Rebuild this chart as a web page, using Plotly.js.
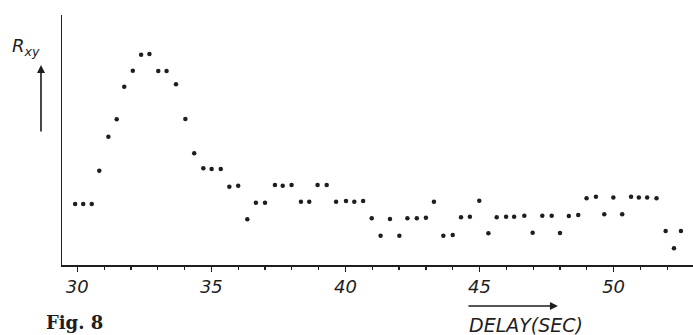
<!DOCTYPE html>
<html>
<head>
<meta charset="utf-8">
<script src="https://cdn.plot.ly/plotly-3.0.1.min.js"></script>
<style>html,body{margin:0;padding:0;background:#fff;}#chart{width:693px;height:335px;}</style>
</head>
<body>
<div id="chart"></div>
<script>
// Delay (s)
const delay = [29.92, 30.22, 30.54, 30.82, 31.16, 31.47, 31.75, 32.07, 32.38, 32.69,
  33.02, 33.33, 33.68, 34.03, 34.36, 34.70, 35.01, 35.35, 35.67, 36.00,
  36.34, 36.66, 37.00, 37.37, 37.66, 37.99, 38.34, 38.65, 38.96, 39.30,
  39.65, 40.02, 40.33, 40.66, 40.98, 41.31, 41.66, 42.01, 42.31, 42.66,
  43.00, 43.30, 43.65, 44.00, 44.31, 44.64, 44.99, 45.33, 45.64, 45.99,
  46.29, 46.67, 46.98, 47.34, 47.69, 48.00, 48.33, 48.68, 48.99, 49.34,
  49.65, 49.99, 50.32, 50.65, 50.94, 51.25, 51.60, 51.94, 52.25, 52.51];
// Rxy (arbitrary units, 0-100 of axis height)
const rxy = [24.4, 24.4, 24.4, 37.7, 51.3, 58.3, 71.3, 77.7, 84.1, 84.4,
  77.6, 77.6, 72.3, 58.4, 44.7, 38.7, 38.4, 38.4, 31.3, 31.7,
  18.3, 24.9, 24.9, 32.0, 31.7, 32.0, 25.3, 25.3, 32.0, 32.0,
  25.3, 25.6, 25.3, 25.6, 18.7, 11.7, 18.4, 11.7, 18.7, 18.7,
  18.9, 25.3, 11.7, 12.0, 19.1, 19.3, 25.7, 12.7, 19.1, 19.3,
  19.3, 19.7, 12.9, 19.7, 19.7, 12.8, 19.6, 20.0, 26.7, 27.3,
  20.3, 27.0, 20.3, 27.3, 27.0, 27.0, 26.7, 13.6, 6.7, 13.6];
const xTickStep = 5;
const xRange = [29.43, 52.96];
const yRange = [0, 100];
const yLabel = '<i>R<sub>xy</sub></i>';
const xLabel = 'DELAY(SEC)';
const figLabel = 'Fig. 8';

const ink = '#1e1e1e';
const trace = {
  x: delay, y: rxy, type: 'scatter', mode: 'markers',
  marker: {symbol: 'circle', size: 4.5, color: ink},
  hoverinfo: 'skip'
};

const layout = {
  width: 693, height: 335,
  margin: {l: 62, r: 0, t: 15, b: 70},
  paper_bgcolor: '#fff', plot_bgcolor: '#fff',
  showlegend: false,
  xaxis: {
    range: xRange, dtick: xTickStep, tick0: 0,
    ticks: 'outside', ticklen: 5, tickwidth: 1.5, tickcolor: ink,
    minor: {dtick: 1, tick0: 0, ticks: 'outside', ticklen: 3, tickwidth: 1.2, tickcolor: ink, showgrid: false},
    showline: true, linewidth: 1.5, linecolor: ink,
    showgrid: false, zeroline: false,
    tickfont: {family: 'DejaVu Sans', size: 18, style: 'italic', color: ink}
  },
  yaxis: {
    range: yRange, showline: true, linewidth: 1.5, linecolor: ink,
    showticklabels: false, ticks: '', showgrid: false, zeroline: false
  },
  annotations: [
    {xref: 'paper', yref: 'paper', x: -0.082, y: 0.815, xanchor: 'left', yanchor: 'bottom',
     text: yLabel, showarrow: false,
     font: {family: 'DejaVu Sans', size: 18, color: ink}},
    {xref: 'paper', yref: 'paper', x: -0.0333, y: 0.8, text: '', showarrow: true,
     ax: 0, ay: 68, arrowhead: 2, arrowsize: 1, arrowwidth: 1.6, arrowcolor: ink},
    {xref: 'paper', yref: 'paper', x: 0.786, y: -0.164, text: '', showarrow: true,
     ax: -91, ay: 0, arrowhead: 2, arrowsize: 1, arrowwidth: 1.6, arrowcolor: ink},
    {xref: 'paper', yref: 'paper', x: 0.736, y: -0.238, xanchor: 'center', yanchor: 'middle',
     text: xLabel, showarrow: false,
     font: {family: 'DejaVu Sans', size: 19, style: 'italic', color: ink}},
    {xref: 'paper', yref: 'paper', x: 0.0206, y: -0.228, xanchor: 'center', yanchor: 'middle',
     text: '<b>' + figLabel + '</b>', showarrow: false,
     font: {family: 'DejaVu Serif', size: 18, color: ink}}
  ]
};

Plotly.newPlot('chart', [trace], layout, {displayModeBar: false, staticPlot: true});
</script>
</body>
</html>
